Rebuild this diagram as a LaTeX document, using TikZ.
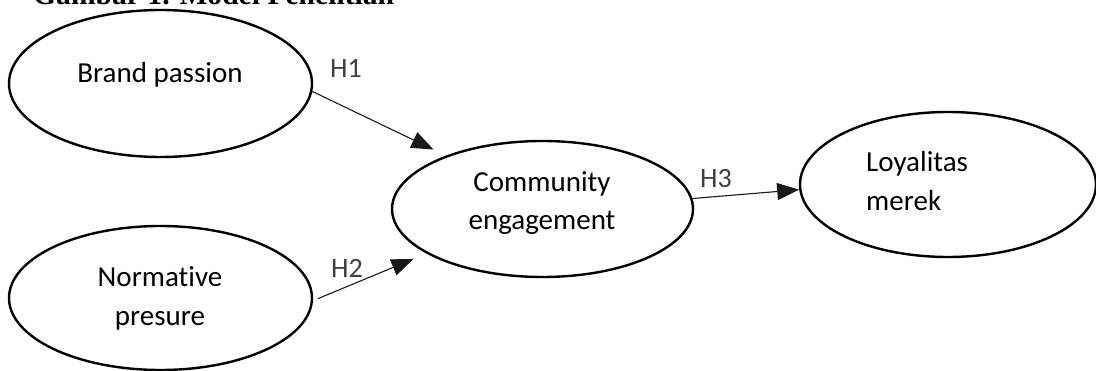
\documentclass[tikz,border=0pt]{standalone}
\usepackage{fontspec}
\setmainfont[Ligatures=CommonOff]{Carlito}
\newfontfamily\titlefont{Liberation Serif}
\usetikzlibrary{arrows.meta,shapes.geometric}
\definecolor{hgray}{HTML}{404040}
\begin{document}
\begin{tikzpicture}[x=1pt,y=-1pt,
  ell/.style={ellipse,draw,line width=2.4pt,inner sep=0pt},
  txt/.style={anchor=base,inner sep=0pt,font=\fontsize{29}{35}\selectfont},
  txtl/.style={txt,anchor=base west},
  hyp/.style={anchor=base west,inner sep=0pt,font=\fontsize{28}{34}\selectfont,text=hgray},
  conn/.style={line width=1.1pt,draw=black!90,-{Triangle[length=22pt,width=17pt]}}]
\useasboundingbox (0,0) rectangle (1096,371);
\node[anchor=base west,inner sep=0pt,font=\titlefont\bfseries\fontsize{29.6}{35}\selectfont] (title) at (33,4.5) {Gambar 1. Model Penelitian};
\node[ell,minimum width=303pt,minimum height=147pt] (bp) at (160.5,83.5) {};
\node[ell,minimum width=303pt,minimum height=144pt] (np) at (160.5,298) {};
\node[ell,minimum width=301pt,minimum height=136pt] (ce) at (542.5,209) {};
\node[ell,minimum width=296pt,minimum height=145pt] (lm) at (948,184.5) {};
\node[txt] (bpt) at (160,83) {Brand passion};
\node[txt] (npt1) at (160,287) {Normative};
\node[txt] (npt2) at (160,326) {presure};
\node[txt] (cet1) at (542,192) {Community};
\node[txt] (cet2) at (542,230) {engagement};
\node[txtl] (lmt1) at (866,172) {Loyalitas};
\node[txtl] (lmt2) at (866,211) {merek};
\node[hyp] (h1) at (330,78) {H1};
\node[hyp] (h2) at (331,278) {H2};
\node[hyp] (h3) at (700,188) {H3};
\draw[conn,shorten >=14pt] (bp.-3) -- (ce.151);
\draw[conn,shorten <=5pt,shorten >=14pt] (np.-1) -- (ce.201);
\draw[conn] (ce.4) -- (lm.182);
\end{tikzpicture}
\end{document}
